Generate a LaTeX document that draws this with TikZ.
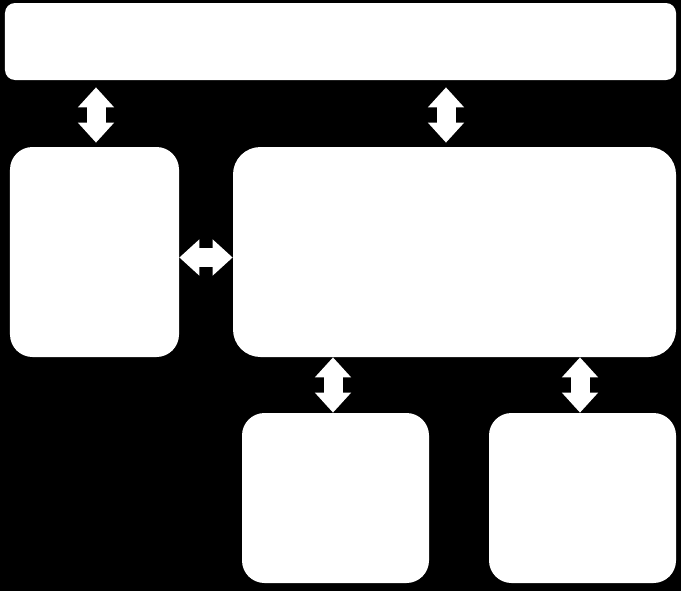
\documentclass[tikz,border=0pt]{standalone}
\usetikzlibrary{arrows.meta, positioning, calc}
\tikzset{
  panel/.style={rectangle, fill=white, rounded corners=#1, inner sep=0pt},
  panel/.default=0.45cm,
  biarrow/.style={white, line width=0.38cm,
    {Triangle[width=0.7cm,length=0.4cm]}-{Triangle[width=0.7cm,length=0.4cm]}},
}
\begin{document}
\begin{tikzpicture}
\fill[black] (0,0) rectangle (13.62,11.82);

\node[panel=0.2cm, minimum width=13.42cm, minimum height=1.54cm] (top) at (6.81,10.99) {};
\node[panel, minimum width=3.38cm, minimum height=4.2cm] (left) at (1.89,6.78) {};
\node[panel=0.55cm, minimum width=8.86cm, minimum height=4.2cm] (main) at (9.09,6.78) {};
\node[panel, minimum width=3.74cm, minimum height=3.4cm] (subA) at (6.71,1.86) {};
\node[panel, minimum width=3.74cm, minimum height=3.4cm] (subB) at (11.65,1.86) {};

%\tikzstyle{biarrow} = [white, line width=0.38cm, <->]
\draw[biarrow, shorten <=0.14cm, shorten >=0.08cm] ([xshift=0.03cm]top.south -| left.north) -- ([xshift=0.03cm]left.north);
\draw[biarrow, shorten <=0.14cm, shorten >=0.08cm] ([xshift=-0.17cm]top.south -| main.north) -- ([xshift=-0.17cm]main.north);
\draw[biarrow] ([yshift=-0.11cm]left.east) -- ([yshift=-0.11cm]main.west);
\draw[biarrow] ([xshift=-0.05cm]subA.north |- main.south) -- ([xshift=-0.05cm]subA.north);
\draw[biarrow] ([xshift=-0.05cm]subB.north |- main.south) -- ([xshift=-0.05cm]subB.north);
\end{tikzpicture}
\end{document}
